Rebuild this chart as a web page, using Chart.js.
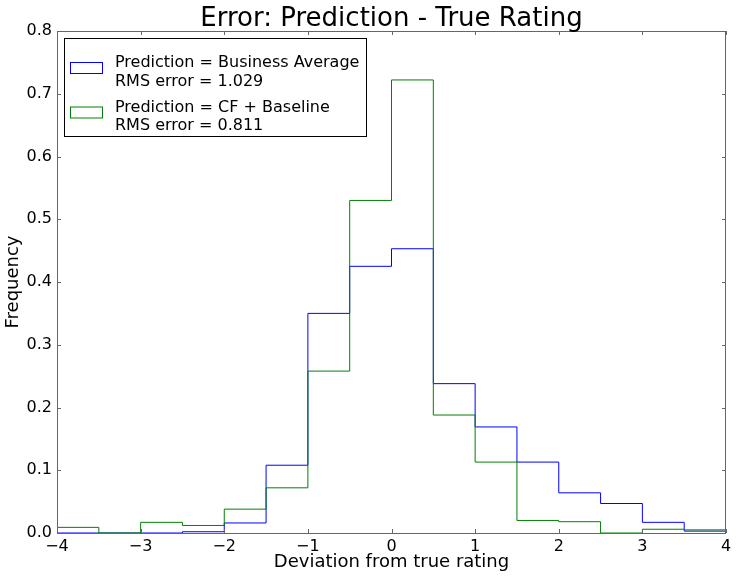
<!DOCTYPE html>
<html>
<head>
<meta charset="utf-8">
<script src="https://cdn.jsdelivr.net/npm/chart.js@4/dist/chart.umd.min.js"></script>
<style>
  html, body { margin: 0; padding: 0; background: #fff; }
  #wrap { width: 737px; height: 579px; }
</style>
</head>
<body>
<div id="wrap"><canvas id="grafico" width="737" height="579"></canvas></div>
<script>
// bordes izquierdos de cada bin (ancho 0.5)
const binEdges = [-4, -3.5, -3, -2.5, -2, -1.5, -1, -0.5, 0, 0.5, 1, 1.5, 2, 2.5, 3, 3.5];
const binEnd = 4;
const businessAvg = [0, 0, 0, 0.002, 0.016, 0.108, 0.350, 0.425, 0.453, 0.238, 0.169, 0.113, 0.064, 0.047, 0.017, 0.003];
const cfBaseline = [0.009, 0, 0.017, 0.012, 0.038, 0.072, 0.258, 0.530, 0.722, 0.188, 0.113, 0.020, 0.018, 0, 0.006, 0.005];
const xTicks = [-4, -3, -2, -1, 0, 1, 2, 3, 4];
const yTicks = [0, 0.1, 0.2, 0.3, 0.4, 0.5, 0.6, 0.7, 0.8];
const labelsBusiness = ['Prediction = Business Average', 'RMS error = 1.029'];
const labelsCF = ['Prediction = CF + Baseline', 'RMS error = 0.811'];
const titulo = 'Error: Prediction - True Rating';

const FONT = "'DejaVu Sans', sans-serif";

// puntos del histograma tipo "step"
function stepPoints(values) {
    const pts = [{x: binEdges[0], y: 0}];
    binEdges.forEach((e, i) => pts.push({x: e, y: values[i]}));
    pts.push({x: binEnd, y: values[values.length - 1]});
    pts.push({x: binEnd, y: 0});
    return pts;
}

// marco, ticks hacia adentro, título y leyenda
const marcoPlugin = {
    id: 'marco',
    afterDraw(chart) {
        const ctx = chart.ctx;
        const a = chart.chartArea;
        const xs = chart.scales.x, ys = chart.scales.y;
        ctx.save();
        ctx.strokeStyle = '#666';
        ctx.lineWidth = 1;
        ctx.strokeRect(Math.round(a.left) + 0.5, Math.round(a.top) + 0.5, Math.round(a.right - a.left) - 1, Math.round(a.bottom - a.top));
        ctx.beginPath();
        xTicks.forEach(v => {
            const px = Math.round(xs.getPixelForValue(v)) + 0.5;
            ctx.moveTo(px, a.bottom); ctx.lineTo(px, a.bottom - 4);
            ctx.moveTo(px, a.top); ctx.lineTo(px, a.top + 4);
        });
        yTicks.forEach(v => {
            const py = Math.round(ys.getPixelForValue(v)) + 0.5;
            ctx.moveTo(a.left, py); ctx.lineTo(a.left + 4, py);
            ctx.moveTo(a.right, py); ctx.lineTo(a.right - 4, py);
        });
        ctx.stroke();

        // título
        ctx.fillStyle = '#000';
        ctx.font = '26px ' + FONT;
        ctx.textAlign = 'center';
        ctx.textBaseline = 'alphabetic';
        ctx.fillText(titulo, (a.left + a.right) / 2, a.top - 5);

        // leyenda
        const lx = a.left + 7, ly = a.top + 7;
        ctx.fillStyle = '#fff';
        ctx.fillRect(lx, ly, 302, 98);
        ctx.strokeStyle = '#000';
        ctx.strokeRect(lx + 0.5, ly + 0.5, 302, 98);
        ctx.font = '16px ' + FONT;
        ctx.textAlign = 'left';
        ctx.textBaseline = 'middle';
        chart.data.datasets.forEach((ds, i) => {
            const top = ly + 25 + i * 44.5;
            ctx.strokeStyle = ds.borderColor;
            ctx.strokeRect(lx + 6.5, top - 0.5, 32, 11);
            ctx.fillStyle = '#000';
            ds.label.forEach((t, j) => ctx.fillText(t, lx + 51, top + j * 18.5));
        });
        ctx.restore();
    }
};

new Chart(document.getElementById('grafico'), {
    type: 'line',
    data: {
        datasets: [
            {
                label: labelsBusiness,
                data: stepPoints(businessAvg),
                borderColor: '#0000ff',
                borderWidth: 1,
                stepped: 'before',
                pointRadius: 0,
                fill: false,
                order: 1
            },
            {
                label: labelsCF,
                data: stepPoints(cfBaseline),
                borderColor: '#008000',
                borderWidth: 1,
                stepped: 'before',
                pointRadius: 0,
                fill: false,
                order: 0
            }
        ]
    },
    options: {
        responsive: false,
        animation: false,
        layout: { padding: { top: 31, right: 11, left: 0, bottom: 0 } },
        plugins: {
            legend: { display: false },
            title: { display: false },
            tooltip: { enabled: false }
        },
        scales: {
            x: {
                type: 'linear',
                min: -4,
                max: 4,
                afterFit: s => { s.height = 46; },
                afterBuildTicks: s => { s.ticks = xTicks.map(v => ({value: v})); },
                grid: { display: false, drawTicks: false },
                border: { display: false },
                ticks: {
                    color: '#000',
                    padding: 4,
                    font: { family: FONT, size: 16 },
                    maxRotation: 0,
                    callback: v => v < 0 ? '\u2212' + Math.abs(v) : String(v)
                },
                title: {
                    display: true,
                    text: 'Deviation from true rating',
                    color: '#000',
                    font: { family: FONT, size: 18 },
                    padding: { top: 0, bottom: 6 }
                }
            },
            y: {
                min: 0,
                max: 0.8,
                afterFit: s => { s.width = 57; },
                afterBuildTicks: s => { s.ticks = yTicks.map(v => ({value: v})); },
                grid: { display: false, drawTicks: false },
                border: { display: false },
                ticks: {
                    color: '#000',
                    padding: 5,
                    font: { family: FONT, size: 16 },
                    callback: v => v.toFixed(1)
                },
                title: {
                    display: true,
                    text: 'Frequency',
                    color: '#000',
                    font: { family: FONT, size: 18 },
                    padding: { top: 3, bottom: 0 }
                }
            }
        }
    },
    plugins: [marcoPlugin]
});
</script>
</body>
</html>
